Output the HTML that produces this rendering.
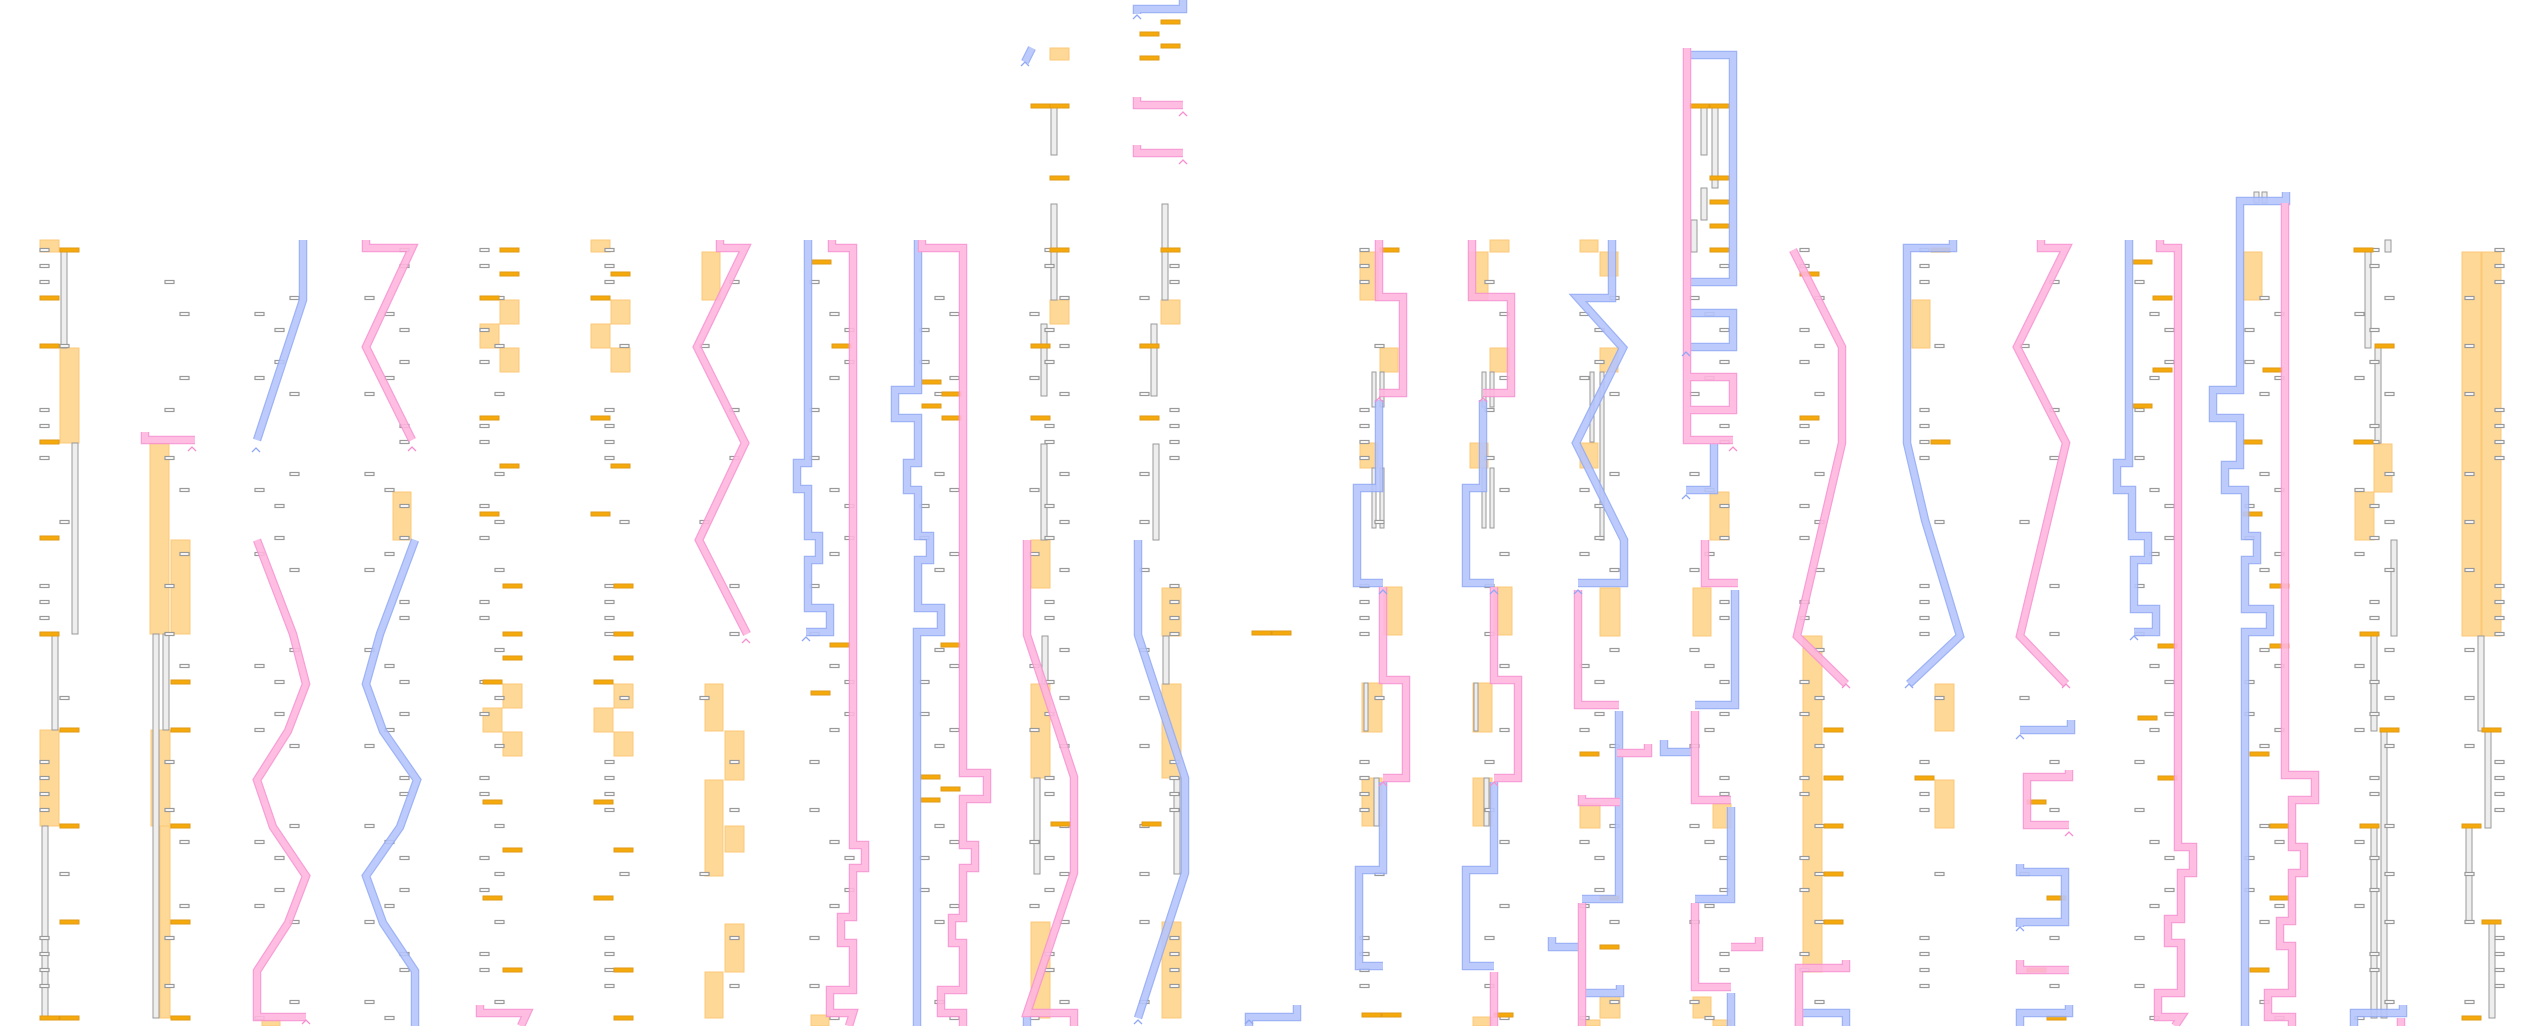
<!DOCTYPE html>
<html><head><meta charset="utf-8"><style>
html,body{margin:0;padding:0;background:#fff;}
svg{display:block}
.bo{fill:none;stroke:#94abf6;stroke-width:8.5;stroke-linejoin:miter;stroke-linecap:butt}
.bi{fill:none;stroke:#b6c6fc;stroke-width:6;stroke-linejoin:miter;stroke-linecap:butt}
.po{fill:none;stroke:#f794d2;stroke-width:8.5;stroke-linejoin:miter;stroke-linecap:butt}
.pi{fill:none;stroke:#ffb6df;stroke-width:6;stroke-linejoin:miter;stroke-linecap:butt}
.ob rect{fill:#fed896;stroke:#fcc878;stroke-width:1}
.gl rect{fill:#eee;stroke:#999;stroke-width:1}
.ds rect{fill:#f5a90a;stroke:#e09a18;stroke-width:1}
.ar{fill:none;stroke-width:1.3}
</style></head><body>
<svg id="s" width="2540" height="1026" viewBox="0 0 2540 1026" xmlns="http://www.w3.org/2000/svg">
<defs>
<rect id="g" width="9" height="3" fill="#fff" stroke="#999" stroke-width="1.2"/>
<path id="b" d="M303,240V300L257,440 M415,540L380,634L366,684L383,731L417,780L400,827L366,876L383,923L415,971V1026 M808,240V463H797V489H808V536H819V560H808V608H830V632H806 M918,240V390H895V418H918V463H907V490H918V536H930V560H918V608H941V632H917V1026 M1025,62L1032,48 M1137,14V9H1183V0 M1138,540V635L1185,778V873L1138,1018 M1249,1026V1017H1297V1005 M1379,400V488H1357V583H1383 M1383,782V870H1359V966H1383 M1483,400V488H1466V583H1494 M1494,782V870H1466V966H1494 M1612,240V298H1578L1623,348L1576,443L1624,540V583H1578 M1619,711V899H1582 M1552,937V947H1585 M1620,985V993H1582 M1686,282H1733V55H1686 M1686,313H1733V347H1686 M1714,443V490H1686 M1735,590V705H1695 M1731,807V899H1695 M1731,993V1026 M1664,740V752H1697 M1799,1026V1013H1846V1026 M1953,240V248H1907V443L1925,520L1960,636L1909,684 M2020,927V922H2065V872H2020V864 M2020,1026V1013H2069V1005 M2071,720V730H2020 M2129,240V463H2117V490H2132V536H2148V560H2134V609H2156V632H2134 M2286,192V201H2240V390H2213V418H2240V465H2225V490H2245V536H2257V560H2245V609H2270V632H2245V1026 M2354,1026V1013H2403V1005 M1027,1015V1026"/>
<path id="p" d="M145,432V440H195 M257,540L293,634L306,684L288,731L257,780L273,827L306,876L288,923L257,971V1017H306 M366,240V248H412L366,347L412,440 M480,1005V1013H527L521,1026 M720,240V248H745L697,347L745,443L699,540L747,634 M832,240V248H853V845H865V868H853V917H841V943H853V990H830V1013H853L849,1026 M922,240V248H963V773H987V799H963V845H975V868H963V918H952V943H963V990H941V1013H963V1026 M1027,540V635L1074,777V873L1027,1013H1074V1026 M1137,97V105H1183 M1137,145V153H1183 M1379,240V297H1403V393H1379 M1383,587V680H1406V778H1383 M1472,240V297H1511V393H1483 M1494,587V680H1518V778H1494 M1494,972V1026 M1578,590V705H1619 M1582,795V802H1620 M1582,903V1026 M1617,753H1648V744 M1687,48V440H1733 M1686,377H1733V410H1686 M1705,540V583H1738 M1695,711V800H1731 M1695,903V987H1731 M1731,947H1759V937 M1793,250L1842,347V443L1797,636L1846,684 M1799,1026V968H1846V960 M2041,240V248H2066L2017,347L2066,443L2020,636L2066,684 M2069,770V777H2027V825H2069 M2020,960V970H2069 M2160,240V248H2178V847H2193V873H2181V919H2168V943H2181V993H2158V1017H2181L2175,1026 M2285,203V775H2315V800H2292V847H2304V873H2292V921H2280V946H2292V993H2268V1017H2292V1026 M2401,1018V1026"/>
</defs>
<g class="ob">
<rect x="40" y="240" width="19" height="12"/><rect x="60" y="348" width="19" height="95"/><rect x="40" y="730" width="19" height="96"/>
<rect x="150" y="443" width="19" height="191"/><rect x="171" y="540" width="19" height="94"/><rect x="151" y="730" width="19" height="96"/><rect x="160" y="826" width="10" height="192"/>
<rect x="262" y="1020" width="18" height="6"/><rect x="393" y="492" width="18" height="48"/>
<rect x="500" y="300" width="19" height="24"/><rect x="480" y="324" width="19" height="24"/><rect x="500" y="348" width="19" height="24"/><rect x="503" y="684" width="19" height="24"/><rect x="483" y="708" width="19" height="24"/><rect x="503" y="732" width="19" height="24"/>
<rect x="591" y="240" width="19" height="12"/><rect x="611" y="300" width="19" height="24"/><rect x="591" y="324" width="19" height="24"/><rect x="611" y="348" width="19" height="24"/><rect x="614" y="684" width="19" height="24"/><rect x="594" y="708" width="19" height="24"/><rect x="614" y="732" width="19" height="24"/>
<rect x="702" y="252" width="18" height="48"/><rect x="705" y="684" width="18" height="47"/><rect x="725" y="731" width="19" height="49"/><rect x="705" y="780" width="18" height="96"/><rect x="725" y="826" width="19" height="26"/><rect x="725" y="924" width="19" height="48"/><rect x="705" y="972" width="18" height="46"/>
<rect x="811" y="1015" width="18" height="11"/>
<rect x="1050" y="48" width="19" height="12"/><rect x="1050" y="300" width="19" height="24"/><rect x="1031" y="540" width="19" height="48"/><rect x="1031" y="684" width="19" height="94"/><rect x="1031" y="922" width="19" height="96"/>
<rect x="1161" y="300" width="19" height="24"/><rect x="1162" y="588" width="19" height="48"/><rect x="1162" y="684" width="19" height="94"/><rect x="1162" y="922" width="19" height="96"/>
<rect x="1360" y="252" width="18" height="48"/><rect x="1380" y="348" width="18" height="24"/><rect x="1360" y="443" width="18" height="25"/><rect x="1384" y="587" width="18" height="48"/><rect x="1362" y="683" width="20" height="49"/><rect x="1362" y="778" width="20" height="48"/>
<rect x="1490" y="240" width="19" height="12"/><rect x="1469" y="252" width="19" height="48"/><rect x="1490" y="348" width="19" height="24"/><rect x="1470" y="443" width="18" height="25"/><rect x="1494" y="587" width="18" height="48"/><rect x="1473" y="683" width="19" height="49"/><rect x="1473" y="778" width="19" height="48"/><rect x="1473" y="1017" width="19" height="9"/>
<rect x="1580" y="240" width="18" height="12"/><rect x="1600" y="252" width="18" height="24"/><rect x="1600" y="348" width="18" height="24"/><rect x="1580" y="443" width="18" height="25"/><rect x="1600" y="588" width="20" height="48"/><rect x="1580" y="804" width="20" height="24"/><rect x="1600" y="997" width="20" height="21"/><rect x="1580" y="1020" width="20" height="6"/>
<rect x="1710" y="492" width="19" height="48"/><rect x="1693" y="588" width="18" height="48"/><rect x="1713" y="804" width="18" height="24"/><rect x="1693" y="997" width="18" height="21"/><rect x="1713" y="1020" width="18" height="6"/>
<rect x="1803" y="636" width="19" height="336"/>
<rect x="1912" y="300" width="18" height="48"/><rect x="1935" y="684" width="19" height="47"/><rect x="1935" y="780" width="19" height="48"/>
<rect x="2243" y="252" width="19" height="48"/>
<rect x="2374" y="444" width="18" height="48"/><rect x="2355" y="492" width="19" height="48"/>
<rect x="2462" y="252" width="19" height="384"/><rect x="2482" y="252" width="19" height="384"/>
</g>
<g class="gl">
<rect x="61" y="252" width="6" height="96"/><rect x="72" y="443" width="6" height="191"/><rect x="52" y="634" width="6" height="96"/><rect x="42" y="826" width="6" height="192"/>
<rect x="153" y="634" width="6" height="384"/><rect x="163" y="634" width="6" height="96"/>
<rect x="1051" y="106" width="6" height="49"/><rect x="1051" y="204" width="6" height="96"/><rect x="1041" y="324" width="6" height="72"/><rect x="1041" y="444" width="6" height="96"/><rect x="1042" y="636" width="6" height="48"/><rect x="1034" y="778" width="6" height="96"/>
<rect x="1162" y="204" width="6" height="96"/><rect x="1151" y="324" width="6" height="72"/><rect x="1153" y="444" width="6" height="96"/><rect x="1163" y="636" width="6" height="48"/><rect x="1174" y="778" width="6" height="96"/>
<rect x="1372" y="372" width="4" height="35"/><rect x="1380" y="372" width="4" height="35"/><rect x="1372" y="468" width="4" height="60"/><rect x="1380" y="468" width="4" height="60"/><rect x="1364" y="683" width="4" height="48"/><rect x="1374" y="778" width="5" height="48"/>
<rect x="1482" y="372" width="4" height="35"/><rect x="1490" y="372" width="4" height="35"/><rect x="1482" y="468" width="4" height="60"/><rect x="1490" y="468" width="4" height="60"/><rect x="1474" y="683" width="4" height="48"/><rect x="1484" y="778" width="5" height="48"/>
<rect x="1590" y="372" width="4" height="70"/><rect x="1600" y="372" width="4" height="168"/>
<rect x="1701" y="106" width="6" height="49"/><rect x="1712" y="106" width="6" height="82"/><rect x="1701" y="188" width="6" height="32"/><rect x="1691" y="220" width="6" height="32"/>
<rect x="2365" y="252" width="6" height="96"/><rect x="2375" y="348" width="6" height="95"/><rect x="2391" y="540" width="6" height="96"/><rect x="2371" y="636" width="6" height="95"/><rect x="2381" y="731" width="6" height="287"/><rect x="2371" y="828" width="6" height="190"/><rect x="2385" y="240" width="6" height="12"/>
<rect x="2478" y="636" width="6" height="95"/><rect x="2485" y="731" width="6" height="97"/><rect x="2466" y="828" width="6" height="94"/><rect x="2489" y="923" width="6" height="95"/>
<rect x="2254" y="192" width="5" height="11"/><rect x="2262" y="192" width="5" height="11"/>
</g>
<g id="grays"></g>
<g class="ds" id="dashes"></g>
<g opacity="0.9">
<use href="#b" class="bo"/>
<use href="#b" class="bi"/>
<use href="#p" class="po"/>
<use href="#p" class="pi"/>
</g>
<g class="ar" stroke="#8fa8f6">
<path d="M252,452l4,-4l4,4 M802,641l4,-4l4,4 M1133,19l4,-4l4,4 M1021,66l4,-4l4,4 M1379,594l4,-4l4,4 M1490,594l4,-4l4,4 M1574,594l4,-4l4,4 M1682,356l4,-4l4,4 M1682,499l4,-4l4,4 M2016,739l4,-4l4,4 M1905,688l4,-4l4,4 M2016,931l4,-4l4,4 M2130,640l4,-4l4,4 M1245,1024l4,-4l4,4 M1134,1024l4,-4l4,4"/>
</g>
<g class="ar" stroke="#f68fd0">
<path d="M188,451l4,-4l4,4 M408,451l4,-4l4,4 M742,643l4,-4l4,4 M1179,116l4,-4l4,4 M1179,164l4,-4l4,4 M1375,402l4,-4l4,4 M1379,786l4,-4l4,4 M1479,402l4,-4l4,4 M1490,786l4,-4l4,4 M1729,451l4,-4l4,4 M1842,688l4,-4l4,4 M2062,688l4,-4l4,4 M2065,836l4,-4l4,4 M302,1024l4,-4l4,4"/>
</g>
</svg>
<script>
(function(){
var NS="http://www.w3.org/2000/svg";
var d=[[40,298],[40,346],[40,442],[40,538],[40,634],[40,1018],[60,250],[60,730],[60,826],[60,922],[60,1018],
[171,682],[171,730],[171,826],[171,922],[171,1018],
[500,250],[500,274],[480,298],[480,418],[500,466],[480,514],[503,586],[503,634],[503,658],[483,682],[483,802],[503,850],[483,898],[503,970],
[611,274],[591,298],[591,418],[611,466],[591,514],[594,682],[614,586],[614,634],[614,658],[594,802],[614,850],[594,898],[614,970],[614,1018],
[812,262],[832,346],[830,645],[811,693],
[922,382],[942,394],[922,406],[942,418],[941,645],[921,777],[941,789],[921,800],
[1031,106],[1050,106],[1050,178],[1050,250],[1031,346],[1031,418],[1051,824],
[1161,22],[1140,34],[1161,46],[1140,58],[1161,250],[1140,346],[1140,418],[1142,824],
[1252,633],[1272,633],[1380,250],[1362,1015],[1382,1015],[1494,1015],
[1580,754],[1600,898],[1600,947],
[1690,106],[1710,106],[1710,178],[1710,202],[1710,226],[1710,250],
[1800,274],[1800,418],[1824,730],[1824,778],[1824,826],[1824,874],[1824,922],
[1931,250],[1931,442],[1915,778],
[2027,802],[2047,898],[2027,970],[2047,1018],
[2133,262],[2153,298],[2153,370],[2133,406],[2158,646],[2138,718],[2158,778],
[2263,370],[2243,442],[2243,514],[2270,586],[2270,646],[2250,754],[2270,826],[2270,898],[2250,970],
[2354,250],[2375,346],[2354,442],[2360,634],[2380,730],[2360,826],
[2482,730],[2462,826],[2482,922],[2462,1018]];
var gd=document.getElementById('dashes');
d.forEach(function(p){var r=document.createElementNS(NS,'rect');r.setAttribute('x',p[0]);r.setAttribute('y',p[1]-2);r.setAttribute('width',19);r.setAttribute('height',4);gd.appendChild(r);});
var cols=[[40,60,70],[150,165,180],[255,275,290],[365,385,400],[480,495,510],[590,605,620],[700,715,730],[810,830,845],[920,935,950],[1030,1045,1060],[1140,1155,1170],[1360,1375,1390],[1470,1485,1500],[1580,1595,1610],[1690,1705,1720],[1800,1815,1830],[1905,1920,1935],[2020,2035,2050],[2135,2150,2165],[2245,2260,2275],[2355,2370,2385],[2465,2480,2495]];
var gg=document.getElementById('grays');
cols.forEach(function(c,i){
 for(var k=0;k<=48;k++){
  var h=(k*37+i*53+k*k*7)%11;
  if(h<6){
   var x=c[h%3];
   var u=document.createElementNS(NS,'use');
   u.setAttribute('href','#g');u.setAttribute('x',x);u.setAttribute('y',250+16*k-1.5);
   gg.appendChild(u);
  }
 }
});
})();
</script>
</body></html>
